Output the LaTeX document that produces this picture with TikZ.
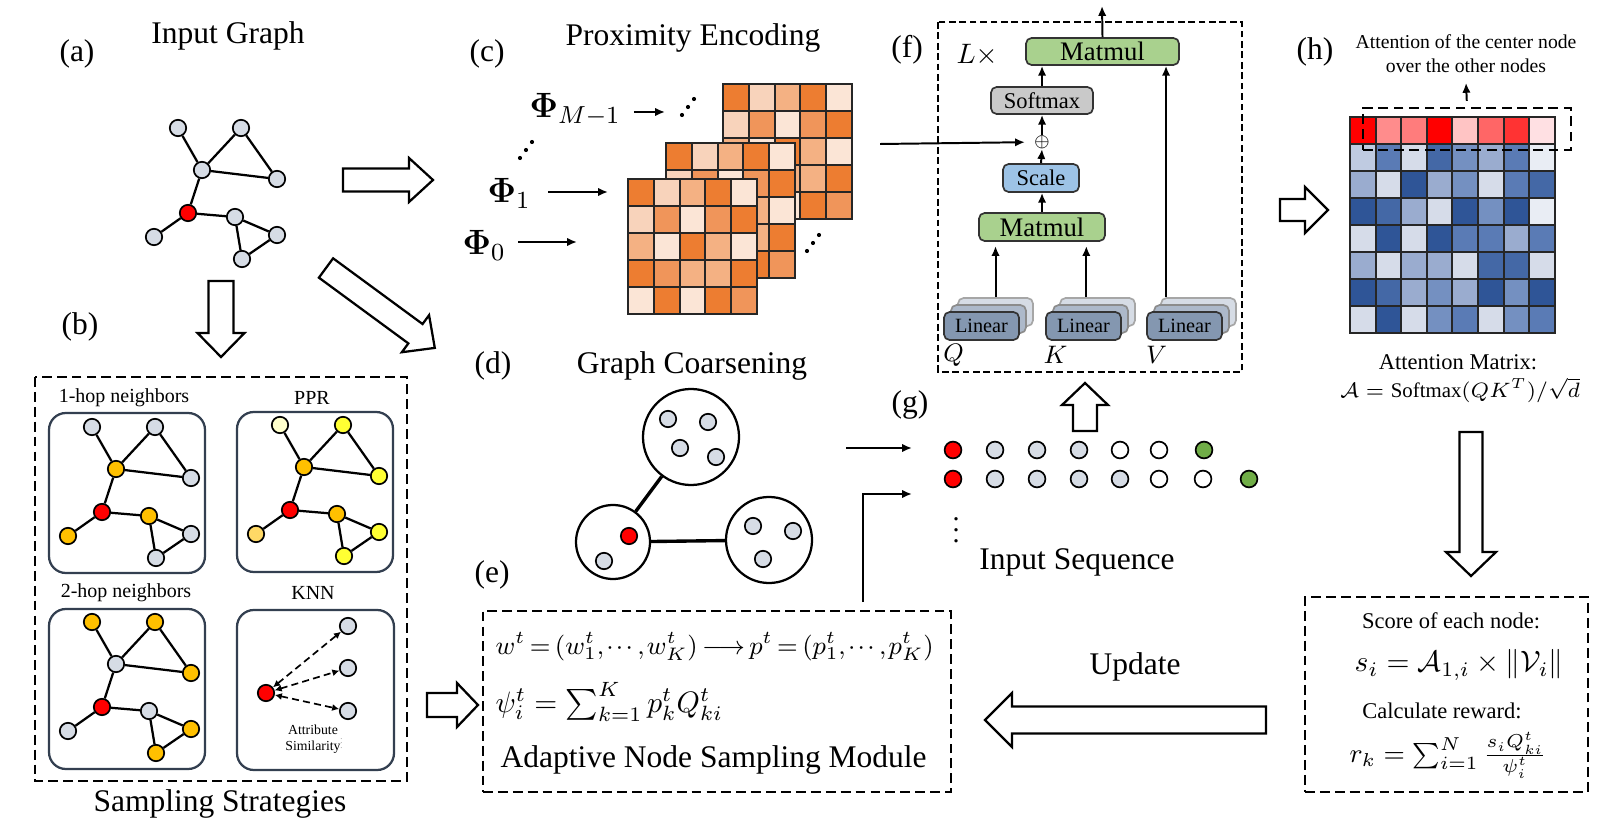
\RequirePackage{fix-cm}
\documentclass[tikz,border=0pt]{standalone}
\usepackage{amsmath}
\usepackage{graphicx}
\usepackage{fontspec}
\setmainfont{Liberation Serif}
\usetikzlibrary{positioning}
\usetikzlibrary{arrows.meta}
\usetikzlibrary{calc}

\definecolor{ngray}{HTML}{D6DCE5}
\definecolor{nred}{HTML}{FF0000}
\definecolor{norange}{HTML}{FFC000}
\definecolor{nyellow}{HTML}{FFFF33}
\definecolor{npale}{HTML}{FFFFCC}
\definecolor{nlorange}{HTML}{FFD966}
\definecolor{ngreen}{HTML}{70AD47}
\definecolor{boxline}{HTML}{333F50}
\definecolor{mmgreen}{HTML}{A9D18E}
\definecolor{smgray}{HTML}{C9C9C9}
\definecolor{scblue}{HTML}{9DC3E6}
\definecolor{lin0}{HTML}{8497B0}
\definecolor{lin1}{HTML}{ADB9CA}
\definecolor{lin2}{HTML}{D6DCE5}
\definecolor{or1}{HTML}{ED7D31}
\definecolor{or2}{HTML}{F0955A}
\definecolor{or3}{HTML}{F4B183}
\definecolor{or4}{HTML}{F8D3BB}
\definecolor{or5}{HTML}{FBE5D6}
\definecolor{hr0}{HTML}{FF0000}
\definecolor{hr1}{HTML}{FF3333}
\definecolor{hr2}{HTML}{FF6666}
\definecolor{hr3}{HTML}{FF7C7C}
\definecolor{hr4}{HTML}{FF8C8C}
\definecolor{hr5}{HTML}{FFC4C4}
\definecolor{hr6}{HTML}{FFE0E3}
\definecolor{hb1}{HTML}{2F5597}
\definecolor{hb2}{HTML}{4468A6}
\definecolor{hb3}{HTML}{5A7BB5}
\definecolor{hb4}{HTML}{7490C1}
\definecolor{hb5}{HTML}{9AACCF}
\definecolor{hb6}{HTML}{BFCBE1}
\definecolor{hb7}{HTML}{D6DCE9}
\definecolor{hb8}{HTML}{E9EDF4}

\tikzstyle{gnode}=[circle,draw=black,line width=0.6pt,minimum size=0.205cm,inner sep=0pt]
\tikzstyle{gedge}=[draw,line width=0.8pt]
\tikzstyle{arr}=[draw,line width=0.7pt,-{Latex[length=3.5pt,width=3pt]}]
\tikzstyle{hollow}=[draw,line width=0.8pt,fill=white]
\tikzstyle{dashbox}=[draw,line width=0.6pt,dash pattern=on 3.5pt off 1.8pt]
\tikzstyle{panel}=[draw=boxline,line width=0.8pt,rounded corners=6pt]
\tikzstyle{opbox}=[draw=black!80,line width=0.6pt,rounded corners=2pt,inner sep=0pt]
\tikzstyle{linbox}=[opbox,minimum width=0.9375cm,minimum height=0.35cm,font=\fontsize{7.2}{8}\selectfont]
\tikzstyle{ttl}=[font=\fontsize{11.2}{13}\selectfont]
\tikzstyle{lbl}=[font=\fontsize{7.1}{8}\selectfont]
\tikzstyle{note}=[font=\fontsize{8}{9.5}\selectfont]
\tikzstyle{cell}=[draw=black!85,line width=0.7pt]
\tikzstyle{knn}=[draw,line width=0.6pt,dash pattern=on 2.5pt off 1.5pt,{Latex[length=2.5pt,width=2.5pt]}-{Latex[length=2.5pt,width=2.5pt]}]

% small graph: fill colours of v1..v9
\newcommand{\sgraph}[9]{%
  \foreach \pos/\name/\col in {{(178,128)/v1/#1}, {(241,128)/v2/#2}, {(202,170)/v3/#3}, {(277,179)/v4/#4}, {(188,213)/v5/#5}, {(235,217)/v6/#6}, {(154,237)/v7/#7}, {(277,235)/v8/#8}, {(242,259)/v9/#9}}
    \node[gnode,fill=\col] (\name) at \pos {};
  \foreach \source/\dest in {v1/v3, v3/v2, v2/v4, v3/v4, v3/v5, v5/v6, v5/v7, v6/v8, v6/v9, v8/v9}
    \path[gedge] (\source) -- (\dest);
}
% tail, angle, length, body half, head half, head length
\newcommand{\blockarrow}[6]{%
  \draw[hollow,shift={#1},rotate=#2] (0,#4) -- ({#3-#6},#4) -- ({#3-#6},#5) -- (#3,0) -- ({#3-#6},-#5) -- ({#3-#6},-#4) -- (0,-#4) -- cycle;
}
% 5x5 proximity matrix, top left corner
\newcommand{\proxgrid}[2]{%
  \foreach \row [count=\i from 0] in {{1,4,3,1,5},{4,2,5,2,1},{3,5,1,3,5},{1,2,3,3,1},{5,1,5,1,2}}
    \foreach \c [count=\j from 0] in \row
      \path[cell,fill=or\c] ({#1+\j*25.8},{#2+\i*27}) rectangle ++(25.8,27);
}

\begin{document}
\begin{tikzpicture}[x=0.0125cm,y=-0.0125cm]
    \useasboundingbox (0,0) rectangle (1622,823);

    % (a) input graph
    \node[ttl] (la) at (77,54) {(a)};
    \node[ttl] (ta) at (228,36) {Input Graph};
    \sgraph{ngray}{ngray}{ngray}{ngray}{nred}{ngray}{ngray}{ngray}{ngray}

    \blockarrow{(343,180)}{0}{90}{11.5}{22}{24}
    \blockarrow{(221,281)}{-90}{76}{12.5}{23.5}{24}
    \blockarrow{(326,268)}{-36.3}{135}{12}{23}{24}

    % (b) sampling strategies
    \node[ttl] (lb) at (80,327) {(b)};
    \draw[dashbox] (35,377) rectangle (407,781);
    \node[ttl] (tb) at (220,804) {Sampling Strategies};
    \draw[panel] (49,413) rectangle (205,573);
    \draw[panel] (237,412) rectangle (393,572);
    \draw[panel] (49,609) rectangle (205,769);
    \draw[panel] (237,610) rectangle (394,770);
    \foreach \pos/\name/\label in {{(124,398)/hop1/1-hop neighbors}, {(312,398)/ppr/PPR}, {(126,593)/hop2/2-hop neighbors}, {(313,593)/knnt/KNN}}
        \node[lbl] (\name) at \pos {\label};

    \begin{scope}[shift={(-86,299)},name prefix=hop1-]
        \sgraph{ngray}{ngray}{norange}{ngray}{nred}{norange}{norange}{ngray}{ngray}
    \end{scope}
    \begin{scope}[shift={(102,297)},name prefix=ppr-]
        \sgraph{npale}{nyellow}{norange}{nyellow}{nred}{norange}{nlorange}{nyellow}{nyellow}
    \end{scope}
    \begin{scope}[shift={(-86,494)},name prefix=hop2-]
        \sgraph{norange}{norange}{ngray}{norange}{nred}{ngray}{ngray}{norange}{norange}
    \end{scope}

    \node[gnode,fill=nred] (knr) at (266,693) {};
    \foreach \y/\name in {626/k1, 668/k2, 711/k3}
        \node[gnode,fill=ngray] (\name) at (348,\y) {};
    \foreach \dest in {k1,k2,k3}
        \path[knn] (knr) -- (\dest);
    \node[align=center,inner sep=0pt,font=\fontsize{4.9}{5.7}\selectfont] (attr) at (313,739) {Attribute\\Similarity\rlap{\smash{\raisebox{0.3ex}{\scalebox{0.4}{$\vdots$}}}}};

    \blockarrow{(427,705)}{0}{51}{12}{22}{21}

    % (c) proximity encoding
    \node[ttl] (lc) at (487,54) {(c)};
    \node[ttl] (tc) at (693,38) {Proximity Encoding};
    \proxgrid{723}{84}
    \proxgrid{666}{143}
    \proxgrid{628}{179}

    \node[anchor=base west,inner sep=0pt,font=\fontsize{12.5}{14}\selectfont] (phiM) at (529,118) {$\boldsymbol{\Phi}_{M-1}$};
    \node[anchor=base west,inner sep=0pt,font=\fontsize{12.5}{14}\selectfont] (phi1) at (487,203) {$\boldsymbol{\Phi}_1$};
    \node[anchor=base west,inner sep=0pt,font=\fontsize{12.5}{14}\selectfont] (phi0) at (462,255) {$\boldsymbol{\Phi}_0$};
    \coordinate (phiMend) at (665,112);
    \coordinate (phi1end) at (608,192);
    \coordinate (phi0end) at (577,242);
    \draw[arr,shorten <=4.5pt] (phiM.east |- phiMend) -- (phiMend);
    \draw[arr,shorten <=6pt] (phi1.east |- phi1end) -- (phi1end);
    \draw[arr,shorten <=4.3pt] (phi0.east |- phi0end) -- (phi0end);
    % diagonal dots
    \foreach \cx/\cy in {688/107, 526/150, 813/243}
        \foreach \k in {-1,0,1}
            \fill ({\cx+6*\k},{\cy-8*\k}) circle (0.026cm);

    % (d) graph coarsening
    \node[ttl] (ld) at (493,366) {(d)};
    \node[ttl] (td) at (692,366) {Graph Coarsening};
    \node[circle,draw,line width=0.8pt,minimum size=1.2cm,inner sep=0pt] (ctop) at (691,437) {};
    \node[circle,draw,line width=0.8pt,minimum size=0.925cm,inner sep=0pt] (cleft) at (613,542) {};
    \node[circle,draw,line width=0.8pt,minimum size=1.075cm,inner sep=0pt] (cright) at (769,540) {};
    \path[draw,line width=1.2pt] (ctop) -- (cleft);
    \path[draw,line width=1.2pt] (cleft) -- (cright);
    \foreach \pos/\name/\col in {{(668,419)/c1/ngray}, {(708,422)/c2/ngray}, {(680,448)/c3/ngray}, {(716,457)/c4/ngray}, {(629,536)/c5/nred}, {(604,561)/c6/ngray}, {(753,526)/c7/ngray}, {(793,531)/c8/ngray}, {(763,559)/c9/ngray}}
        \node[gnode,fill=\col] (\name) at \pos {};

    % (e) adaptive node sampling
    \node[ttl] (le) at (492,575) {(e)};
    \node[dashbox,minimum width=5.85cm,minimum height=2.2625cm] (ebox) at (717,701.5) {};
    \node[anchor=west,inner sep=0pt,font=\fontsize{9.2}{11}\selectfont] (eq1) at (495,647) {\thickmuskip=3mu \thinmuskip=1.5mu $w^t = (w^t_1, \cdots, w^t_K) \longrightarrow p^t = (p^t_1, \cdots, p^t_K)$};
    \node[anchor=west,inner sep=0pt,font=\fontsize{10.5}{12}\selectfont] (eq2) at (495,702) {$\psi^t_i = \textstyle\sum_{k=1}^{K} p^t_k Q^t_{ki}$};
    \node[ttl,anchor=west,inner sep=0pt] (etext) at (500,760) {Adaptive Node Sampling Module};

    % (f) attention layer
    \node[ttl] (lf) at (907,50) {(f)};
    \draw[draw,line width=0.6pt,dash pattern=on 2.4pt off 1.3pt] (938,22) rectangle (1242,372);
    \node[font=\fontsize{10}{12}\selectfont] (lx) at (977,55) {$L\times$};
    \node[opbox,fill=mmgreen,minimum width=1.9125cm,minimum height=0.3375cm,font=\fontsize{9.5}{11}\selectfont] (mm2) at (1102.5,51.5) {Matmul};
    \node[opbox,fill=smgray,minimum width=1.275cm,minimum height=0.3375cm,font=\fontsize{8}{9}\selectfont] (soft) at (1042,100.5) {Softmax};
    \node[inner sep=0pt,font=\fontsize{6}{7}\selectfont] (plus) at (1042,142) {$\oplus$};
    \node[opbox,fill=scblue,minimum width=0.95cm,minimum height=0.35cm,font=\fontsize{8}{9}\selectfont] (scale) at (1041,178) {Scale};
    \node[opbox,fill=mmgreen,minimum width=1.575cm,minimum height=0.35cm,font=\fontsize{9.5}{11}\selectfont] (mm1) at (1042,227) {Matmul};
    \foreach \x/\name/\label in {981.5/q/Q, 1083.5/k/K, 1184.5/v/V}{
        \node[linbox,fill=lin2,draw=black!35] (\name2) at ({\x+14},312) {};
        \node[linbox,fill=lin1,draw=black!45] (\name1) at ({\x+7},319) {};
        \node[linbox,fill=lin0] (\name0) at (\x,326) {Linear};
        \node[font=\fontsize{9}{10}\selectfont] (\name l) at ({\x-28},355) {$\label$};
    }
    \draw[arr,shorten >=1.5pt] (q2.north) -- (q2.north |- mm1.south);
    \draw[arr,shorten >=1.5pt] ([xshift=-0.14cm]k2.north) -- ([xshift=-0.14cm]k2.north |- mm1.south);
    \draw[arr] ([xshift=-0.406cm]v2.north) -- ([xshift=-0.406cm]v2.north |- mm2.south);
    \draw[arr] (mm1.north) -- (mm1.north |- scale.south);
    \draw[arr] (scale.north) -- (plus.south);
    \draw[arr] (plus.north) -- (soft.south);
    \draw[arr] (soft.north) -- (soft.north |- mm2.south);
    \coordinate (fout) at (1102,6);
    \draw[arr] (mm2.north) -- (fout);
    \coordinate (pe) at (880,144);
    \draw[arr,shorten >=3pt] (pe) -- (plus);

    % (g) input sequence
    \node[ttl] (lg) at (910,405) {(g)};
    \blockarrow{(1085,431)}{90}{48}{12}{23}{22}
    \foreach \x/\name/\col in {953/s11/nred, 995/s12/ngray, 1037/s13/ngray, 1079/s14/ngray, 1120/s15/white, 1159/s16/white, 1204/s17/ngreen}
        \node[gnode,fill=\col,minimum size=0.21cm] (\name) at (\x,450) {};
    \foreach \x/\name/\col in {953/s21/nred, 995/s22/ngray, 1037/s23/ngray, 1079/s24/ngray, 1120/s25/ngray, 1159/s26/white, 1203/s27/white, 1249/s28/ngreen}
        \node[gnode,fill=\col,minimum size=0.21cm] (\name) at (\x,479) {};
    \node[inner sep=0pt] (vd) at (956,522) {$\vdots$};
    \node[ttl] (tg) at (1077,562) {Input Sequence};
    \coordinate (dout) at (846,448);
    \coordinate (gtip1) at (912,448);
    \draw[arr] (dout) -- (gtip1);
    \coordinate (eup) at (863,602);
    \coordinate (gtip2) at (912,494);
    \draw[arr] (eup) |- (gtip2);

    % (h) attention matrix
    \node[ttl] (lh) at (1315,52) {(h)};
    \node[align=center,font=\fontsize{7}{8.5}\selectfont] (htext) at (1466,54) {Attention of the center node\\over the other nodes};
    \blockarrow{(1280,210)}{0}{48}{11}{23}{23}
    \foreach \row [count=\i from 0] in {{hr0,hr4,hr3,hr0,hr5,hr2,hr1,hr6},{hb6,hb3,hb7,hb2,hb4,hb5,hb3,hb8},{hb5,hb7,hb1,hb5,hb4,hb7,hb3,hb2},{hb1,hb2,hb5,hb7,hb1,hb4,hb1,hb8},{hb7,hb1,hb7,hb1,hb3,hb3,hb5,hb3},{hb5,hb7,hb5,hb5,hb7,hb2,hb2,hb7},{hb1,hb2,hb5,hb4,hb5,hb1,hb4,hb1},{hb7,hb1,hb7,hb4,hb3,hb7,hb4,hb3}}
        \foreach \c [count=\j from 0] in \row
            \path[cell,fill=\c] ({1350+\j*25.6},{117+\i*27}) rectangle ++(25.6,27);
    \node[draw,line width=1pt,dash pattern=on 3.5pt off 2pt,minimum width=2.6cm,minimum height=0.525cm,inner sep=0pt] (hrect) at (1467,129) {};
    \draw[arr,shorten <=2pt] (hrect.north) -- (htext.south);
    \node[note] (amt) at (1458,362) {Attention Matrix:};
    \node[font=\fontsize{7.4}{9}\selectfont] (aform) at (1460,390) {$\mathcal{A} = \mathrm{Softmax}(QK^T)/\sqrt{d}$};
    \blockarrow{(1471,432)}{-90}{144}{11.5}{25}{24}

    % reward box
    \node[dashbox,minimum width=3.5375cm,minimum height=2.4375cm] (rbox) at (1446.5,694.5) {};
    \node[note] (score) at (1451,621) {Score of each node:};
    \node[font=\fontsize{10.5}{12}\selectfont] (sform) at (1459,665) {$s_i = \mathcal{A}_{1,i} \times \|\mathcal{V}_i\|$};
    \node[note] (calc) at (1442,711) {Calculate reward:};
    \node[font=\fontsize{9.5}{11}\selectfont] (rform) at (1448,755) {$r_k = \sum_{i=1}^{N} \frac{s_i Q^t_{ki}}{\psi^t_i}$};

    % update
    \node[ttl] (upd) at (1135,667) {Update};
    \blockarrow{(1266,720)}{180}{281}{13.5}{27}{27}
\end{tikzpicture}
\end{document}
